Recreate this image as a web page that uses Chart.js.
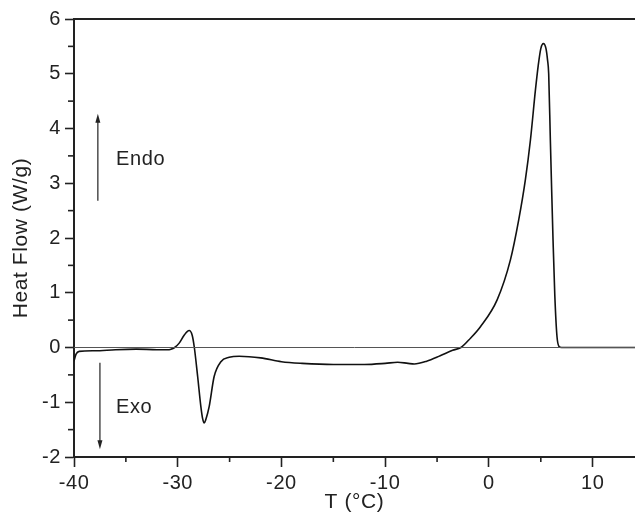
<!DOCTYPE html>
<html>
<head>
<meta charset="utf-8">
<script src="https://cdn.jsdelivr.net/npm/chart.js@4.4.1/dist/chart.umd.min.js"></script>
<style>
  body { margin: 0; background: #fff; }
  canvas { display: block; }
</style>
</head>
<body>
<canvas id="dsc-chart" width="635" height="515"></canvas>
<script>
// DSC trace
let temperature = [-40.0, -39.8, -39.5, -38, -36, -34, -32, -31, -30.65, -30.3, -29.86, -29.4, -28.9, -28.6, -28.4, -28.08, -27.77, -27.6, -27.45, -27.3, -26.97, -26.49, -25.84, -25.04, -24.08, -22, -20, -18, -15, -12, -10, -8.8, -7.8, -7.2, -6.0, -4.7, -3.5, -2.7, -1.78, -0.82, 0.79, 2.07, 2.87, 3.51, 4.0, 4.48, 4.75, 5.0, 5.25, 5.5, 5.65, 5.76, 5.92, 6.05, 6.18, 6.35, 6.56, 6.75, 7.0, 10, 14.08];
let heatFlow = [-0.25, -0.12, -0.07, -0.06, -0.04, -0.03, -0.04, -0.04, -0.03, 0.0, 0.08, 0.22, 0.31, 0.22, 0.0, -0.53, -1.08, -1.3, -1.38, -1.32, -1.08, -0.53, -0.26, -0.18, -0.16, -0.19, -0.26, -0.29, -0.31, -0.31, -0.29, -0.27, -0.29, -0.30, -0.25, -0.15, -0.05, 0.0, 0.17, 0.38, 0.87, 1.60, 2.33, 3.06, 3.79, 4.70, 5.15, 5.46, 5.55, 5.46, 5.25, 5.0, 3.79, 2.85, 1.96, 0.95, 0.2, 0.02, 0.0, 0.0, 0.0];

let baselineX = [-40, 14.08];
let baselineY = [0, 0];

let xTicks = [-40, -30, -20, -10, 0, 10];
let xMinorTicks = [-35, -25, -15, -5, 5];
let yTicks = [-2, -1, 0, 1, 2, 3, 4, 5, 6];
let yMinorTicks = [-1.5, -0.5, 0.5, 1.5, 2.5, 3.5, 4.5, 5.5];

const xMin = -40, xMax = 14.08, yMin = -2, yMax = 6;

// arrows with labels, in data units
const notes = [
  { x: -37.7, from: 2.68, to: 4.27, text: 'Endo', tx: -35.95, ty: 3.44 },
  { x: -37.5, from: -0.28, to: -1.86, text: 'Exo', tx: -35.95, ty: -1.09 },
];

const family = 'Liberation Sans, Arial, Helvetica, sans-serif';
const tickFont = { family: family, size: 20 };
const titleFont = { family: family, size: 21 };
const ink = '#222';

const extras = {
  id: 'extras',
  beforeDraw(chart) {
    chart.ctx.letterSpacing = '0.6px';
  },
  afterDraw(chart) {
    const ctx = chart.ctx;
    const xs = chart.scales.x, ys = chart.scales.y;
    const area = chart.chartArea;
    ctx.save();
    ctx.strokeStyle = ink;
    ctx.lineWidth = 1.6;
    // minor ticks
    xMinorTicks.forEach(v => {
      const px = xs.getPixelForValue(v);
      ctx.beginPath();
      ctx.moveTo(px, area.bottom);
      ctx.lineTo(px, area.bottom + 5);
      ctx.stroke();
    });
    yMinorTicks.forEach(v => {
      const py = ys.getPixelForValue(v);
      ctx.beginPath();
      ctx.moveTo(area.left - 6, py);
      ctx.lineTo(area.left, py);
      ctx.stroke();
    });
    // arrows and labels
    ctx.lineWidth = 1.2;
    ctx.fillStyle = ink;
    notes.forEach(n => {
      const px = xs.getPixelForValue(n.x);
      const p1 = ys.getPixelForValue(n.from);
      const p2 = ys.getPixelForValue(n.to);
      const dir = p2 < p1 ? 1 : -1;
      ctx.beginPath();
      ctx.moveTo(px, p1);
      ctx.lineTo(px, p2 + dir * 6);
      ctx.stroke();
      ctx.beginPath();
      ctx.moveTo(px, p2);
      ctx.lineTo(px - 2.5, p2 + dir * 9);
      ctx.lineTo(px + 2.5, p2 + dir * 9);
      ctx.closePath();
      ctx.fill();
      ctx.font = tickFont.size + 'px ' + family;
      ctx.textBaseline = 'middle';
      ctx.textAlign = 'left';
      ctx.fillText(n.text, xs.getPixelForValue(n.tx), ys.getPixelForValue(n.ty));
    });
    ctx.restore();
  }
};

const chart = new Chart(document.getElementById('dsc-chart'), {
  type: 'line',
  data: {
    datasets: [
      {
        label: 'baseline',
        data: baselineX.map((x, i) => ({ x: x, y: baselineY[i] })),
        borderColor: '#555',
        borderWidth: 1,
        pointRadius: 0,
      },
      {
        label: 'Heat Flow',
        data: temperature.map((x, i) => ({ x: x, y: heatFlow[i] })),
        borderColor: '#111',
        borderWidth: 1.6,
        pointRadius: 0,
        cubicInterpolationMode: 'monotone',
      },
    ],
  },
  options: {
    responsive: false,
    animation: false,
    layout: { padding: 0 },
    plugins: { legend: { display: false }, tooltip: { enabled: false } },
    scales: {
      x: {
        type: 'linear',
        min: xMin,
        max: xMax,
        afterBuildTicks: s => { s.ticks = xTicks.map(v => ({ value: v })); },
        afterFit: s => { s.height = 58; },
        grid: { drawOnChartArea: false, tickLength: 10, tickWidth: 1.6, tickColor: ink },
        border: { color: ink, width: 2 },
        ticks: { color: ink, font: tickFont, padding: 4, maxRotation: 0 },
        title: { display: true, text: 'T (°C)', color: ink, font: titleFont, padding: { top: 0, bottom: 0 } },
      },
      x2: {
        type: 'linear',
        position: 'top',
        min: xMin,
        max: xMax,
        afterFit: s => { s.height = 19; },
        grid: { drawOnChartArea: false, drawTicks: false },
        border: { color: ink, width: 2 },
        ticks: { display: false },
      },
      y: {
        min: yMin,
        max: yMax,
        afterBuildTicks: s => { s.ticks = yTicks.map(v => ({ value: v })); },
        afterFit: s => { s.width = 74; },
        grid: { drawOnChartArea: false, tickLength: 9, tickWidth: 1.6, tickColor: ink },
        border: { color: ink, width: 2 },
        ticks: { color: ink, font: tickFont, padding: 4 },
        title: { display: true, text: 'Heat Flow (W/g)', color: ink, font: titleFont, padding: { top: 9, bottom: 0 } },
      },
    },
  },
  plugins: [extras],
});
</script>
</body>
</html>
